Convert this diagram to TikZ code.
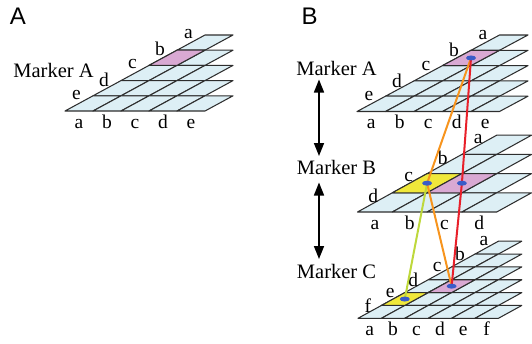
\documentclass[tikz,border=0pt]{standalone}
\usepackage{fontspec}
\setmainfont{Liberation Serif}
\newfontfamily\panelfont{Liberation Sans}
\usetikzlibrary{arrows.meta,shapes.geometric}
\definecolor{cellblue}{HTML}{DDEFF5}
\definecolor{cellpink}{HTML}{D9A9D3}
\definecolor{cellyellow}{HTML}{F0E83A}
\definecolor{gridline}{HTML}{2E2E2E}
\definecolor{dotblue}{HTML}{3A5CC8}
\definecolor{linkred}{HTML}{E8202A}
\definecolor{linkorange}{HTML}{F7941D}
\definecolor{linkgreen}{HTML}{BED83C}
\tikzset{
  cell/.style={draw=gridline, line width=1.05pt, fill=cellblue, line join=round},
  pinkcell/.style={cell, fill=cellpink},
  yellowcell/.style={cell, fill=cellyellow},
  rowlab/.style={anchor=east, inner sep=0pt, xshift=-12pt, font=\fontsize{19.5}{19.5}\selectfont},
  collab/.style={anchor=base, inner sep=0pt, yshift=-17pt, font=\fontsize{19.5}{19.5}\selectfont},
  markertext/.style={anchor=base, inner sep=0pt, font=\fontsize{20.5}{20.5}\selectfont},
  paneltext/.style={inner sep=0pt, font=\panelfont\fontsize{24}{24}\selectfont},
  dotmark/.style={ellipse, fill=dotblue, inner sep=0pt, minimum width=10pt, minimum height=5pt},
  link/.style={line width=2pt, line cap=round},
  dblarrow/.style={line width=1.6pt, {Triangle[length=13pt,width=10pt]}-{Triangle[length=13pt,width=10pt]}}
}
% #1 x0, #2 y0 (bottom line), #3 cell width, #4 row height, #5 n, #6 letters, #7 name prefix, #8 extra row-label options
\newcommand{\genogrid}[8]{%
  \foreach \i in {1,...,#5}{%
    \pgfmathtruncatemacro\jb{#5-\i}%
    \pgfmathtruncatemacro\kk{\i-1}%
    \foreach \k in {0,...,\kk}{%
      \draw[cell] ({#1+#3*(\k+\jb)},{#2-#4*\jb}) -- ++(#3,0) -- ++(#3,-#4) -- ++(-#3,0) -- cycle;
    }%
  }%
  \foreach \l [count=\i] in {#6}{%
    \pgfmathsetmacro\jt{#5-\i+1}%
    \node[rowlab,#8] (#7r\i) at ({#1+#3*\jt},{#2-#4*\jt}) {\l};
    \node[collab] (#7c\i) at ({#1+#3*(\i-0.5)},{#2}) {\l};
  }%
}
% #1 x0, #2 y0, #3 w, #4 h, #5 jb, #6 k, #7 style
\newcommand{\hilitecell}[7]{%
  \draw[#7] ({#1+#3*(#6+#5)},{#2-#4*#5}) -- ++(#3,0) -- ++(#3,-#4) -- ++(-#3,0) -- cycle;
}
% #1 name, #2 x0, #3 y0, #4 w, #5 h, #6 jb, #7 k
\newcommand{\cellcentre}[7]{%
  \coordinate (#1) at ({#2+#4*(#7+#6+1)},{#3-#5*(#6+0.5)});
}
\begin{document}
\begin{tikzpicture}[x=1pt,y=-1pt]
\useasboundingbox (0,0) rectangle (532,343);

% Panel labels
\node[paneltext] (pA) at (18,16.5) {A};
\node[paneltext] (pB) at (309.5,16.5) {B};

% ---------- Panel A ----------
\node[markertext] (mkA0) at (53.5,77) {Marker A};
\genogrid{65}{111}{28}{15.2}{5}{a,b,c,d,e}{ga}{yshift=1pt}
\hilitecell{65}{111}{28}{15.2}{3}{0}{pinkcell}

% ---------- Panel B ----------
\node[markertext] (mkA) at (336.5,75) {Marker A};
\node[markertext] (mkB) at (336.5,174.5) {Marker B};
\node[markertext] (mkC) at (336.5,278.5) {Marker C};

\coordinate (a1t) at (319,79.5);
\coordinate (a1b) at (319,156);
\coordinate (a2t) at (319,182.5);
\coordinate (a2b) at (319,259);
\draw[dblarrow] (a1t) -- (a1b);
\draw[dblarrow] (a2t) -- (a2b);

% Marker A grid
\genogrid{357}{111.5}{28.5}{15.3}{5}{a,b,c,d,e}{gb}{yshift=0pt}
\hilitecell{357}{111.5}{28.5}{15.3}{3}{0}{pinkcell}
% Marker B grid
\genogrid{357.5}{212}{34.8}{19.2}{4}{a,b,c,d}{gc}{yshift=-3.5pt,xshift=-2pt}
\hilitecell{357.5}{212}{34.8}{19.2}{1}{0}{yellowcell}
\hilitecell{357.5}{212}{34.8}{19.2}{1}{1}{pinkcell}
% Marker C grid
\genogrid{358}{318.3}{23.4}{12.85}{6}{a,b,c,d,e,f}{gd}{xshift=2pt}
\hilitecell{358}{318.3}{23.4}{12.85}{1}{0}{yellowcell}
\hilitecell{358}{318.3}{23.4}{12.85}{2}{1}{pinkcell}

% dot centres
\cellcentre{cA}{357}{111.5}{28.5}{15.3}{3}{0}
\cellcentre{cBy}{357.5}{212}{34.8}{19.2}{1}{0}
\cellcentre{cBp}{357.5}{212}{34.8}{19.2}{1}{1}
\cellcentre{cCy}{358}{318.3}{23.4}{12.85}{1}{0}
\cellcentre{cCp}{358}{318.3}{23.4}{12.85}{2}{1}

% links
\draw[link, linkgreen] (cBy) -- (cCy);
\draw[link, linkorange] (cA) -- (cBy) -- (cCp);
\draw[link, linkred] (cA) -- (cBp) -- (cCp);

% dots
\node[dotmark] (dA) at (cA) {};
\node[dotmark] (dBy) at (cBy) {};
\node[dotmark] (dBp) at (cBp) {};
\node[dotmark] (dCy) at (cCy) {};
\node[dotmark] (dCp) at (cCp) {};
\end{tikzpicture}
\end{document}
